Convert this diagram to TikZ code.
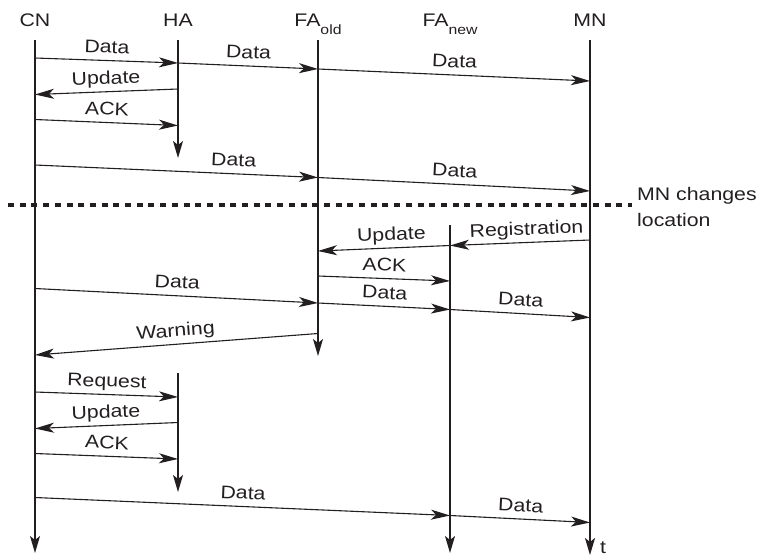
\documentclass[tikz,border=0pt]{standalone}
\usepackage{fontspec}
\setmainfont{Liberation Sans}[FakeStretch=1.17]
\usetikzlibrary{arrows.meta}
\definecolor{ink}{HTML}{231F20}
\newcommand\lowsub[1]{\raisebox{-8pt}{\fontsize{13.5}{13.5}\selectfont #1}}

\begin{document}
\begin{tikzpicture}[x=1pt, y=-1pt,
  every node/.style={font=\fontsize{18.2}{21}\selectfont, text=ink},
  head/.style={inner sep=0pt, anchor=base},
  life/.style={draw=ink, line width=1.4pt, -{Stealth[length=17pt, width=10pt, inset=4pt]}},
  msg/.style={draw=ink, line width=1.1pt, -{Stealth[length=19pt, width=10pt, inset=5pt]}},
  lbl/.style={sloped, anchor=south, inner sep=0pt, outer ysep=7.5pt, text depth=0pt},
  sepline/.style={draw=ink, line width=3.2pt, dash pattern=on 6pt off 5.7pt},
  note/.style={inner sep=0pt, align=left, anchor=north west, font=\fontsize{18.2}{25.7}\selectfont}]
\useasboundingbox (0,0) rectangle (760,558);

% participants
\node[head] (cn) at (35,26) {CN};
\node[head] (ha) at (178,26) {HA};
\node[head] (faold) at (318,26) {FA\lowsub{old}};
\node[head] (fanew) at (450,26) {FA\lowsub{new}};
\node[head] (mn) at (590,26) {MN};

% lifelines
\draw[life] (cn |- 0,40) -- (cn |- 0,553);
\draw[life] (ha |- 0,40) -- (ha |- 0,158);
\draw[life] (ha |- 0,373) -- (ha |- 0,492);
\draw[life] (faold |- 0,40) -- (faold |- 0,356);
\draw[life] (fanew |- 0,225) -- (fanew |- 0,553);
\draw[life] (mn |- 0,40) -- (mn |- 0,555);
\node[inner sep=0pt, anchor=base west] (tlab) at (600,553) {t};

% before the move
\draw[msg] (cn |- 0,58) -- node[lbl]{Data} (ha |- 0,63);
\draw[msg] (ha |- 0,63) -- node[lbl]{Data} (faold |- 0,69);
\draw[msg] (faold |- 0,69) -- node[lbl]{Data} (mn |- 0,81);
\draw[msg] (ha |- 0,89) -- node[lbl]{Update} (cn |- 0,94.5);
\draw[msg] (cn |- 0,119.5) -- node[lbl]{ACK} (ha |- 0,125.5);
\draw[msg] (cn |- 0,165) -- node[lbl, pos=0.7]{Data} (faold |- 0,177.5);
\draw[msg] (faold |- 0,177.5) -- node[lbl]{Data} (mn |- 0,191);

% MN moves
\coordinate (sepL) at (8,205);
\coordinate (sepR) at (632,205);
\draw[sepline] (sepL) -- (sepR);
\node[note] (move) at (637,187) {MN changes\\location};

% after the move
\draw[msg] (mn |- 0,240) -- node[lbl, pos=0.45]{Registration} (fanew |- 0,245.5);
\draw[msg] (fanew |- 0,245.5) -- node[lbl, pos=0.44]{Update} (faold |- 0,251);
\draw[msg] (faold |- 0,276) -- node[lbl]{ACK} (fanew |- 0,281);
\draw[msg] (cn |- 0,288.5) -- node[lbl]{Data} (faold |- 0,303);
\draw[msg] (faold |- 0,303) -- node[lbl]{Data} (fanew |- 0,309.5);
\draw[msg] (fanew |- 0,309.5) -- node[lbl]{Data} (mn |- 0,317.5);
\draw[msg] (faold |- 0,333.5) -- node[lbl]{Warning} (cn |- 0,355);
\draw[msg] (cn |- 0,392) -- node[lbl]{Request} (ha |- 0,397);
\draw[msg] (ha |- 0,422.5) -- node[lbl]{Update} (cn |- 0,428.5);
\draw[msg] (cn |- 0,453.5) -- node[lbl]{ACK} (ha |- 0,459);
\draw[msg] (cn |- 0,497.5) -- node[lbl]{Data} (fanew |- 0,515.5);
\draw[msg] (fanew |- 0,515.5) -- node[lbl]{Data} (mn |- 0,522.5);
\end{tikzpicture}
\end{document}
